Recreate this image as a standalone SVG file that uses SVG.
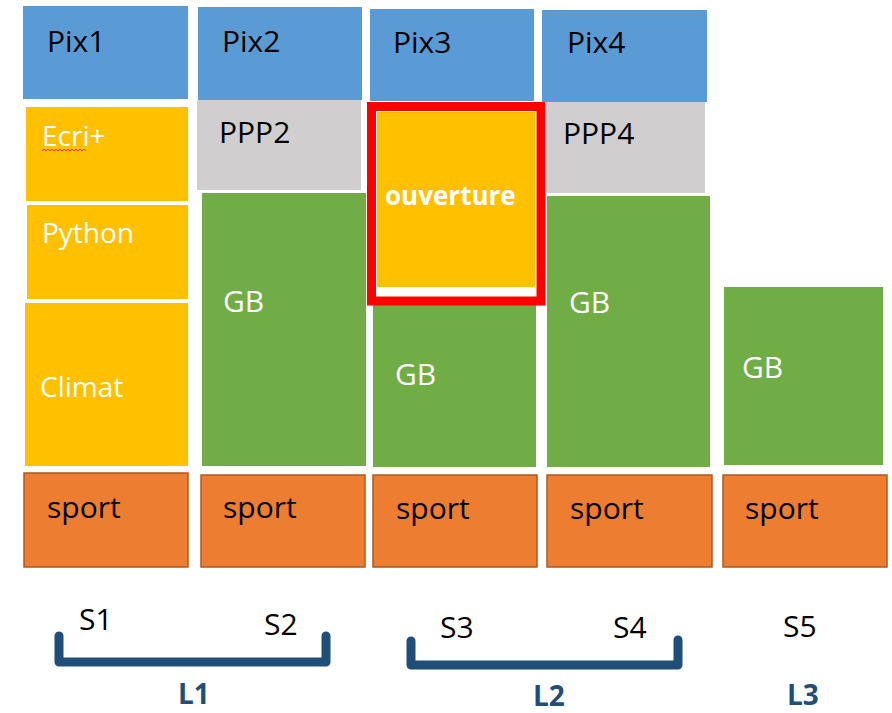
<svg xmlns="http://www.w3.org/2000/svg" width="892" height="713" viewBox="0 0 892 713">
<style>
text{font-family:"Open Sans","Liberation Sans",sans-serif;}
.pix{fill:#5b9bd5;}
.ppp{fill:#d0cece;}
.yel{fill:#ffc000;}
.grn{fill:#70ad47;}
.spt{fill:#ed7d31;stroke:#ae5a21;stroke-width:1.5;}
.dk{fill:#000;font-size:30px;}
.wt{fill:#fff;font-size:28px;}
.gb{fill:#fff;font-size:30px;}
.s{fill:#000;font-size:30px;}
.l{fill:#1f4e79;font-size:28px;font-weight:bold;}
.br{fill:none;stroke:#1f4e79;stroke-width:9;stroke-linejoin:round;stroke-linecap:round;}
</style>
<rect width="892" height="713" fill="#fff"/>
<g id="pix1"><rect class="pix" x="23" y="6" width="165" height="93"/><text class="dk" x="47" y="52">Pix1</text></g>
<g id="pix2"><rect class="pix" x="198" y="7" width="164" height="93"/><text class="dk" x="222" y="52">Pix2</text></g>
<g id="pix3"><rect class="pix" x="370" y="9" width="164" height="92"/><text class="dk" x="393" y="53">Pix3</text></g>
<g id="pix4"><rect class="pix" x="542" y="10" width="165" height="92"/><text class="dk" x="567" y="53">Pix4</text></g>
<g id="ecri"><rect class="yel" x="26" y="107" width="162" height="94"/><text class="wt" x="42" y="146" font-size="26">Ecri+</text><path d="M42,151 l2,-2 l2,2 l2,-2 l2,2 l2,-2 l2,2 l2,-2 l2,2 l2,-2 l2,2 l2,-2 l2,2 l2,-2 l2,2 l2,-2 l2,2 l2,-2 l2,2 l2,-2 l2,2 l2,-2 l2,2" fill="none" stroke="#e03030" stroke-width="1"/></g>
<g id="python"><rect class="yel" x="27" y="205" width="161" height="94"/><text class="wt" x="42" y="243">Python</text></g>
<g id="climat"><rect class="yel" x="25" y="303" width="163" height="163"/><text class="wt" x="40" y="397" font-size="31">Climat</text></g>
<g id="ppp2"><rect class="ppp" x="197" y="100" width="164" height="90"/><text class="dk" x="219" y="143">PPP2</text></g>
<g id="gb2"><rect class="grn" x="202" y="193" width="164" height="273"/><text class="gb" x="223" y="312">GB</text></g>
<g id="gb3"><rect class="grn" x="373" y="300" width="163" height="167"/><text class="gb" x="395" y="385">GB</text></g>
<g id="ouverture"><rect x="371.5" y="106.5" width="169.5" height="194.5" fill="#fff" stroke="#ff0000" stroke-width="9"/><rect class="yel" x="377" y="112" width="158" height="175"/><text x="385" y="205" fill="#fff" font-size="26" font-weight="bold">ouverture</text></g>
<g id="ppp4"><rect class="ppp" x="545" y="102" width="160" height="91"/><text class="dk" x="563" y="144">PPP4</text></g>
<g id="gb4"><rect class="grn" x="547" y="196" width="163" height="271"/><text class="gb" x="569" y="313">GB</text></g>
<g id="gb5"><rect class="grn" x="724" y="287" width="159" height="178"/><text class="gb" x="742" y="378">GB</text></g>
<g id="sport1"><rect class="spt" x="24" y="473" width="164" height="94"/><text class="s" x="47" y="518">sport</text></g>
<g id="sport2"><rect class="spt" x="201" y="475" width="164" height="92"/><text class="s" x="223" y="518">sport</text></g>
<g id="sport3"><rect class="spt" x="373" y="475" width="164" height="92"/><text class="s" x="396" y="519">sport</text></g>
<g id="sport4"><rect class="spt" x="547" y="475" width="165" height="92"/><text class="s" x="570" y="519">sport</text></g>
<g id="sport5"><rect class="spt" x="723" y="475" width="164" height="92"/><text class="s" x="745" y="519">sport</text></g>
<g id="connectors">
<path class="br" d="M59,636 V662 H326 V636"/>
<path class="br" d="M411,641 V665 H678 V640"/>
</g>
<g id="labels">
<text class="s" x="79" y="630">S1</text>
<text class="s" x="264" y="635">S2</text>
<text class="s" x="440" y="638">S3</text>
<text class="s" x="613" y="638">S4</text>
<text class="s" x="783" y="637">S5</text>
<text class="l" x="178" y="704">L1</text>
<text class="l" x="533" y="706">L2</text>
<text class="l" x="787" y="705">L3</text>
</g>
</svg>
